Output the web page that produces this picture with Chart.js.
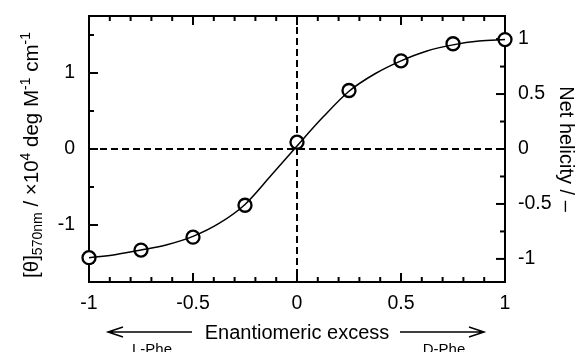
<!DOCTYPE html>
<html>
<head>
<meta charset="utf-8">
<script src="https://cdn.jsdelivr.net/npm/chart.js@4.4.0/dist/chart.umd.min.js"></script>
<style>
    html, body { margin: 0; padding: 0; background: #fff; }
    #wrap { width: 576px; height: 352px; }
</style>
</head>
<body>
<div id="wrap"><canvas id="grafico"></canvas></div>
<script>
/* DADOS */
const ee = [-1, -0.75, -0.5, -0.25, 0, 0.25, 0.5, 0.75, 1];
const theta = [-1.43, -1.33, -1.16, -0.74, 0.09, 0.77, 1.16, 1.385, 1.44];

// curva ajustada
const ajusteX = [-1, -0.875, -0.75, -0.625, -0.5, -0.375, -0.25, -0.125, 0, 0.125, 0.25, 0.375, 0.5, 0.625, 0.75, 0.875, 1];
const ajusteY = [-1.43, -1.39, -1.33, -1.26, -1.15, -0.98, -0.73, -0.35, 0.04, 0.42, 0.76, 0.99, 1.16, 1.29, 1.37, 1.42, 1.44];

const xTicks = [-1, -0.5, 0, 0.5, 1];
const yTicks = [-1, 0, 1];
const helixTicks = [-1, -0.5, 0, 0.5, 1];

const FONTE = '"Liberation Sans", Arial, sans-serif';

/* MARCAS DOS EIXOS, MOLDURA E TITULOS */
function marcas(ctx, scale, de, ate, passo, maior, lado, area) {
    const n = Math.round((ate - de) / passo);
    for (let i = 0; i <= n; i++) {
        const v = de + i * passo;
        const grande = Math.abs(v / maior - Math.round(v / maior)) < 1e-6;
        const len = grande ? 9 : 5;
        const p = scale.getPixelForValue(v);
        ctx.beginPath();
        if (lado === 'left') { ctx.moveTo(area.left, p); ctx.lineTo(area.left + len, p); }
        if (lado === 'right') { ctx.moveTo(area.right, p); ctx.lineTo(area.right - len, p); }
        if (lado === 'bottom') { ctx.moveTo(p, area.bottom); ctx.lineTo(p, area.bottom - len); }
        if (lado === 'top') { ctx.moveTo(p, area.top); ctx.lineTo(p, area.top + len); }
        ctx.stroke();
    }
}

function seta(ctx, x1, x2, y) {
    const dir = Math.sign(x2 - x1);
    ctx.beginPath();
    ctx.moveTo(x1, y); ctx.lineTo(x2, y);
    ctx.moveTo(x2 - dir * 15, y - 5); ctx.lineTo(x2, y); ctx.lineTo(x2 - dir * 15, y + 5);
    ctx.stroke();
}

const moldura = {
    id: 'moldura',
    beforeDatasetsDraw(chart) {
        const { ctx, chartArea: a, scales } = chart;
        ctx.save();
        ctx.strokeStyle = '#000';
        ctx.lineWidth = 2;

        // linhas tracejadas em zero
        ctx.setLineDash([7, 4]);
        const x0 = scales.x.getPixelForValue(0);
        const y0 = scales.y.getPixelForValue(0);
        ctx.beginPath();
        ctx.moveTo(a.left, y0); ctx.lineTo(a.right, y0);
        ctx.moveTo(x0, a.top); ctx.lineTo(x0, a.bottom);
        ctx.stroke();
        ctx.setLineDash([]);

        ctx.strokeRect(a.left, a.top, a.right - a.left, a.bottom - a.top);

        marcas(ctx, scales.y, -1.5, 1.5, 0.5, 1, 'left', a);
        marcas(ctx, scales.y2, -1, 1, 0.25, 0.5, 'right', a);
        marcas(ctx, scales.x, -1, 1, 0.1, 0.5, 'bottom', a);
        marcas(ctx, scales.x, -1, 1, 0.1, 0.5, 'top', a);
        ctx.restore();
    },
    afterDraw(chart) {
        const { ctx } = chart;
        ctx.save();
        ctx.fillStyle = '#000';
        ctx.strokeStyle = '#000';

        // titulo eixo esquerdo (rich text)
        const partes = [
            { t: '[θ]', k: 'n' }, { t: '570nm', k: 'sub' }, { t: ' / ×10', k: 'n' }, { t: '4', k: 'sup' },
            { t: ' deg M', k: 'n' }, { t: '-1', k: 'sup' }, { t: ' cm', k: 'n' }, { t: '-1', k: 'sup' }
        ];
        const fonteDe = k => (k === 'n' ? '20.5px ' : '14px ') + FONTE;
        let total = 0;
        partes.forEach(p => { ctx.font = fonteDe(p.k); p.w = ctx.measureText(p.t).width; total += p.w; });
        ctx.translate(38, 155);
        ctx.rotate(-Math.PI / 2);
        ctx.textBaseline = 'alphabetic';
        ctx.textAlign = 'left';
        let u = -total / 2;
        partes.forEach(p => {
            ctx.font = fonteDe(p.k);
            const v = p.k === 'sub' ? 4 : p.k === 'sup' ? -8 : 0;
            ctx.fillText(p.t, u, v);
            u += p.w;
        });
        ctx.setTransform(1, 0, 0, 1, 0, 0);

        // titulo eixo direito
        ctx.translate(560, 149);
        ctx.rotate(Math.PI / 2);
        ctx.font = '20px ' + FONTE;
        ctx.textAlign = 'center';
        ctx.fillText('Net helicity / –', 0, 0);
        ctx.setTransform(1, 0, 0, 1, 0, 0);

        // titulo eixo x com setas
        ctx.font = '20px ' + FONTE;
        ctx.textAlign = 'center';
        ctx.fillText('Enantiomeric excess', 297, 339);
        ctx.lineWidth = 1.5;
        seta(ctx, 192, 108, 332);
        seta(ctx, 400, 484, 332);
        ctx.font = '15px ' + FONTE;
        ctx.fillText('L-Phe', 152, 354);
        ctx.fillText('D-Phe', 444, 354);
        ctx.restore();
    }
};

/* GRAFICO */
const fonteTick = { family: FONTE, size: 19.5 };
const semGrade = { display: false, drawTicks: false };

new Chart(document.getElementById('grafico'), {
    type: 'line',
    data: {
        datasets: [{
            label: 'ajuste',
            data: ajusteX.map((x, i) => ({ x, y: ajusteY[i] })),
            borderColor: '#000',
            borderWidth: 1.5,
            pointRadius: 0,
            cubicInterpolationMode: 'monotone',
            clip: false,
            yAxisID: 'y'
        }, {
            label: 'theta',
            data: ee.map((x, i) => ({ x, y: theta[i] })),
            showLine: false,
            pointRadius: 6.5,
            pointBackgroundColor: '#fff',
            pointBorderColor: '#000',
            pointBorderWidth: 2.3,
            clip: false,
            yAxisID: 'y'
        }]
    },
    options: {
        responsive: true,
        maintainAspectRatio: false,
        animation: false,
        devicePixelRatio: 1,
        layout: { padding: { top: 16, left: 0, right: 0, bottom: 0 } },
        plugins: { legend: { display: false }, tooltip: { enabled: false } },
        scales: {
            x: {
                type: 'linear', min: -1, max: 1,
                grid: semGrade, border: { display: false },
                afterBuildTicks: s => { s.ticks = xTicks.map(v => ({ value: v })); },
                afterFit: s => { s.height = 70; s.paddingLeft = 0; s.paddingRight = 0; },
                ticks: { font: fonteTick, color: '#000', padding: 10, maxRotation: 0, autoSkip: false, callback: v => String(v) }
            },
            y: {
                position: 'left', min: -1.75, max: 1.75,
                grid: semGrade, border: { display: false },
                afterBuildTicks: s => { s.ticks = yTicks.map(v => ({ value: v })); },
                afterFit: s => { s.width = 89; s.paddingTop = 0; s.paddingBottom = 0; },
                ticks: { font: fonteTick, color: '#000', padding: 14, callback: v => String(v) }
            },
            y2: {
                position: 'right', min: -1.21, max: 1.21,
                grid: semGrade, border: { display: false },
                afterBuildTicks: s => { s.ticks = helixTicks.map(v => ({ value: v })); },
                afterFit: s => { s.width = 71; s.paddingTop = 0; s.paddingBottom = 0; },
                ticks: { font: fonteTick, color: '#000', padding: 13, callback: v => String(v) }
            }
        }
    },
    plugins: [moldura]
});
</script>
</body>
</html>
